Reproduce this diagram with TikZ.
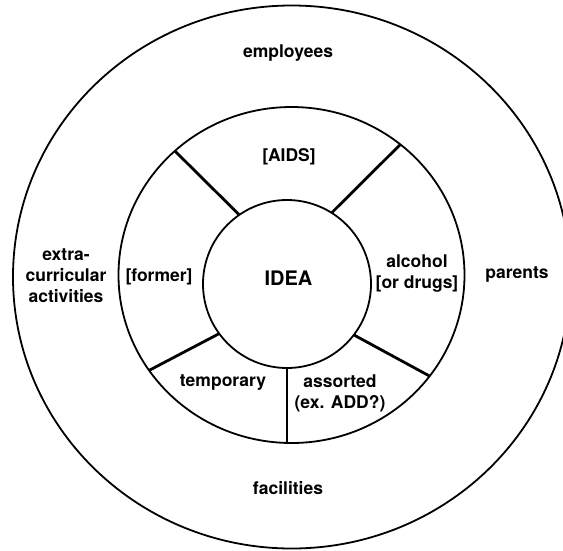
\documentclass[tikz,border=0pt]{standalone}
\usepackage{fontspec}
\setmainfont{TeX Gyre Heros}
\usetikzlibrary{calc}
\begin{document}
\begin{tikzpicture}[x=1pt,y=-1pt,
  ring/.style={line width=1.8pt},
  spoke/.style={line width=2.8pt},
  lbl/.style={font=\fontsize{17.5}{21}\selectfont\bfseries, align=center, inner sep=0pt},
  big/.style={font=\fontsize{20}{24}\selectfont\bfseries, inner sep=0pt}]
\useasboundingbox (0,0) rectangle (563,550);
\clip (0,0) rectangle (563,550);
\coordinate (c0) at (291.7,277);
\coordinate (c1) at (287,284);
\coordinate (c2) at (291.5,275);
\draw[ring] (c0) ellipse [x radius=278.7pt, y radius=271.5pt];
\draw[ring] (c2) ellipse [x radius=173pt, y radius=168pt];
\draw[ring] (c1) circle [radius=84pt];
% spoke end points
\coordinate (ulI) at ($(c1)+(235.4:84)$);
\coordinate (urI) at ($(c1)+(302.1:84)$);
\coordinate (llI) at ($(c1)+(143.8:84)$);
\coordinate (lrI) at ($(c1)+(37.3:84)$);
\coordinate (bI)  at ($(c1)+(90:84)$);
\coordinate (ulO) at ($(c2)+({173*cos(227.6)},{168*sin(227.6)})$);
\coordinate (urO) at ($(c2)+({173*cos(309)},{168*sin(309)})$);
\coordinate (llO) at ($(c2)+({173*cos(145.4)},{168*sin(145.4)})$);
\coordinate (lrO) at ($(c2)+({173*cos(37)},{168*sin(37)})$);
\coordinate (bO)  at (bI |- 0,443);
\draw[spoke] (ulI) -- (ulO);
\draw[spoke] (urI) -- (urO);
\draw[spoke] (llI) -- (llO);
\draw[spoke] (lrI) -- (lrO);
\draw[ring] (bI) -- (bO);
% labels
\node[big] (idea) at (288.5,278) {IDEA};
\node[lbl] (aids) at (289,157) {[AIDS]};
\node[lbl] (former) at (159,277) {[former]};
\node[lbl] (alcohol) at (417,274) {alcohol\\{}{[or drugs]}};
\node[lbl] (temp) at (223,383) {temporary};
\node[lbl] (assorted) at (340,393) {assorted\\(ex. ADD?)};
\node[lbl] (employees) at (288,53) {employees};
\node[lbl] (extra) at (66,276) {extra-\\curricular\\activities};
\node[lbl] (parents) at (517,275) {parents};
\node[lbl] (facilities) at (288,488) {facilities};
\end{tikzpicture}
\end{document}
